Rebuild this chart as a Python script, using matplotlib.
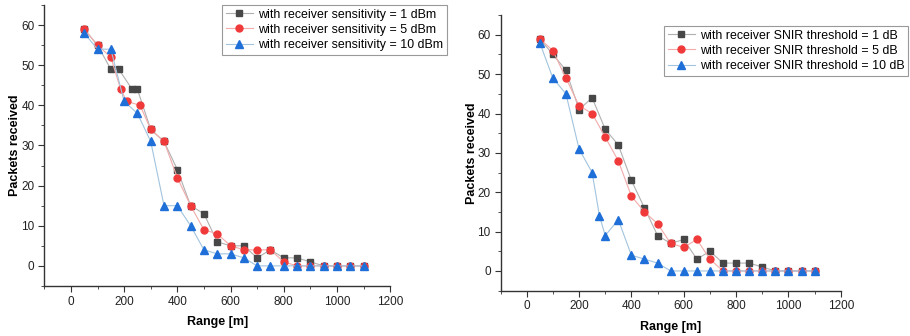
import matplotlib
matplotlib.use("Agg")
import matplotlib.pyplot as plt
from matplotlib.ticker import MultipleLocator

plt.rcParams['font.family'] = ['Liberation Sans', 'DejaVu Sans']

# Left panel: receiver sensitivity
l1_x = [50, 100, 150, 180, 230, 250, 300, 350, 400, 450, 500, 550, 600, 650, 700, 750, 800, 850, 900, 950, 1000, 1050, 1100]
l1_y = [59, 55, 49, 49, 44, 44, 34, 31, 24, 15, 13, 6, 5, 5, 2, 4, 2, 2, 1, 0, 0, 0, 0]
l5_x = [50, 100, 150, 187, 210, 260, 300, 350, 400, 450, 500, 550, 600, 650, 700, 750, 800, 850, 900, 950, 1000, 1050, 1100]
l5_y = [59, 55, 52, 44, 41, 40, 34, 31, 22, 15, 9, 8, 5, 4, 4, 4, 1, 0, 0, 0, 0, 0, 0]
l10_x = [50, 100, 150, 200, 250, 300, 350, 400, 450, 500, 550, 600, 650, 700, 750, 800, 850, 900, 950, 1000, 1050, 1100]
l10_y = [58, 54, 54, 41, 38, 31, 15, 15, 10, 4, 3, 3, 2, 0, 0, 0, 0, 0, 0, 0, 0, 0]
left_labels = ["with receiver sensitivity = 1 dBm",
               "with receiver sensitivity = 5 dBm",
               "with receiver sensitivity = 10 dBm"]

# Right panel: SNIR threshold
r1_x = [50, 100, 150, 200, 250, 300, 350, 400, 450, 500, 550, 600, 650, 700, 750, 800, 850, 900, 950, 1000, 1050, 1100]
r1_y = [59, 55, 51, 41, 44, 36, 32, 23, 16, 9, 7, 8, 3, 5, 2, 2, 2, 1, 0, 0, 0, 0]
r5_x = [50, 100, 150, 200, 250, 300, 350, 400, 450, 500, 550, 600, 650, 700, 750, 800, 850, 900, 950, 1000, 1050, 1100]
r5_y = [59, 56, 49, 42, 40, 34, 28, 19, 15, 12, 7, 6, 8, 3, 0, 0, 0, 0, 0, 0, 0, 0]
r10_x = [50, 100, 150, 200, 250, 278, 300, 350, 400, 450, 500, 550, 600, 650, 700, 750, 800, 850, 900, 950, 1000, 1050, 1100]
r10_y = [58, 49, 45, 31, 25, 14, 9, 13, 4, 3, 2, 0, 0, 0, 0, 0, 0, 0, 0, 0, 0, 0, 0]
right_labels = ["with receiver SNIR threshold = 1 dB",
                "with receiver SNIR threshold = 5 dB",
                "with receiver SNIR threshold = 10 dB"]

styles = [
    dict(color='#b0b0b0', marker='s', mfc='#474747', mec='#474747', ms=4.6),
    dict(color='#f2aaaa', marker='o', mfc='#f03a3a', mec='#f03a3a', ms=5.0),
    dict(color='#a2c4de', marker='^', mfc='#1f6fd8', mec='#1f6fd8', ms=5.6),
]

fig = plt.figure(figsize=(9.10, 3.36), dpi=100)
axL = fig.add_axes([0.0487, 0.149, 0.380, 0.836])
axR = fig.add_axes([0.550, 0.135, 0.374, 0.820])

def draw(ax, series, labels, leg_anchor):
    handles = []
    for (xs, ys), st, lab in zip(series, styles, labels):
        h, = ax.plot(xs, ys, lw=0.8, label=lab, **st)
        handles.append(h)
    ax.set_xlim(-100, 1200)
    ax.set_ylim(-5, 65)
    ax.xaxis.set_major_locator(MultipleLocator(200))
    ax.xaxis.set_minor_locator(MultipleLocator(100))
    ax.yaxis.set_major_locator(MultipleLocator(10))
    ax.yaxis.set_minor_locator(MultipleLocator(5))
    ax.spines['top'].set_visible(False)
    ax.spines['right'].set_visible(False)
    for s in ('left', 'bottom'):
        ax.spines[s].set_linewidth(1.0)
        ax.spines[s].set_color('#333333')
    ax.tick_params(which='both', direction='out', colors='#333333', labelcolor='#222222', labelsize=8.5)
    ax.tick_params(which='major', length=4, pad=3)
    ax.tick_params(which='minor', length=2.5)
    ax.set_xlabel("Range [m]", fontweight='bold', fontsize=9, labelpad=6)
    ax.set_ylabel("Packets received", fontweight='bold', fontsize=9, labelpad=0)
    leg = ax.legend(handles=handles, loc='upper left', bbox_to_anchor=leg_anchor,
                    bbox_transform=fig.transFigure, borderaxespad=0, fancybox=False,
                    edgecolor='#999999', fontsize=8.9, handlelength=2.2, handletextpad=0.4,
                    labelspacing=0.25, borderpad=0.3, framealpha=1)
    leg.get_frame().set_linewidth(0.8)

draw(axL, [(l1_x, l1_y), (l5_x, l5_y), (l10_x, l10_y)], left_labels, (222 / 910, 1 - 5 / 336))
draw(axR, [(r1_x, r1_y), (r5_x, r5_y), (r10_x, r10_y)], right_labels, (664 / 910, 1 - 26 / 336))

fig.savefig("out.png", dpi=100)
